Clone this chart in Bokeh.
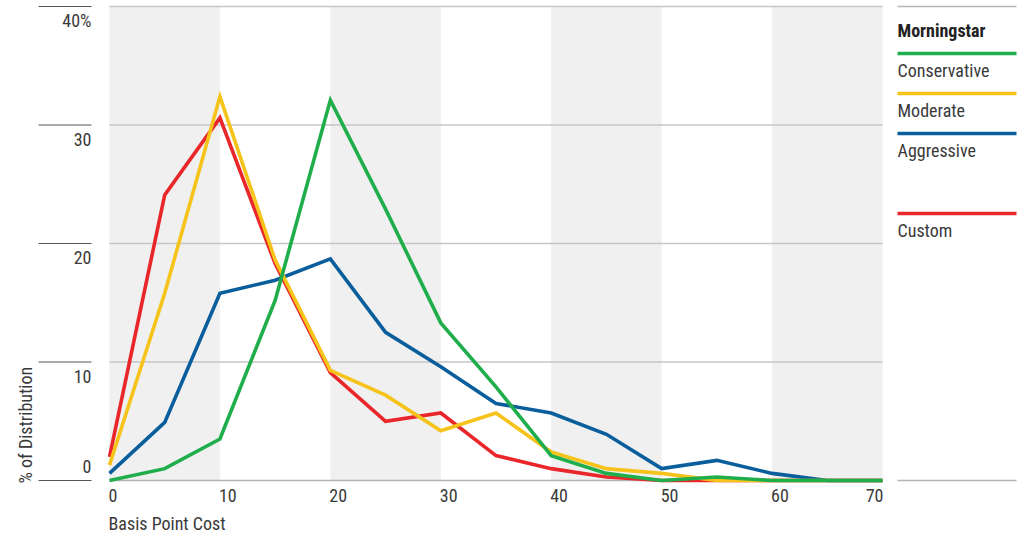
import numpy as np
from bokeh.plotting import figure
from bokeh.models import Range1d
from bokeh.embed import file_html
from bokeh.resources import INLINE
from bokeh.core.properties import value

# ---------------- data ----------------
basis_points = [0, 5, 10, 15, 20, 25, 30, 35, 40, 45, 50, 55, 60, 65, 70]
conservative = [0.0, 1.0, 3.5, 15.2, 32.1, 22.9, 13.3, 7.9, 2.1, 0.6, 0.0, 0.3, 0.0, 0.0, 0.0]
moderate = [1.3, 15.8, 32.4, 18.6, 9.3, 7.2, 4.2, 5.7, 2.4, 1.0, 0.6, 0.0, 0.0, 0.0, 0.0]
aggressive = [0.6, 4.9, 15.8, 16.9, 18.7, 12.5, 9.6, 6.5, 5.7, 3.9, 1.0, 1.7, 0.6, 0.0, 0.0]
custom = [2.0, 24.1, 30.6, 18.3, 9.1, 5.0, 5.7, 2.1, 1.0, 0.3, 0.0, 0.0, 0.0, 0.0, 0.0]

x_ticks = [0, 10, 20, 30, 40, 50, 60, 70]
x_tick_labels = ["0", "10", "20", "30", "40", "50", "60", "70"]
y_ticks = [0, 10, 20, 30, 40]
y_tick_labels = ["0", "10", "20", "30", "40%"]
band_starts = [0, 20, 40, 60]
band_ends = [10, 30, 50, 70]
series_names = ["Conservative", "Moderate", "Aggressive", "Custom"]
legend_title = "Morningstar"
x_title = "Basis Point Cost"
y_title = "% of Distribution"

# ---------------- styles / layout ----------------
FONT = "'Roboto Condensed', 'DejaVu Sans Condensed', 'Liberation Sans Narrow', Roboto"
FS = "18px"
TXT = "#3a3a3a"
COLORS = {"Conservative": "#1fae4b", "Moderate": "#f5c319",
          "Aggressive": "#0b5e9c", "Custom": "#e9262a"}
W, H = 1024, 537
# pixel geometry (picture coords): x=0 at 109, x=70 at 882; y=0 at 480, y=40 at 6
SX = (882 - 109) / 70.0
SY = (480 - 6) / 40.0


def px_x(sx):
    return (sx - 109) / SX


def px_y(sy):
    return (480 - sy) / SY


p = figure(width=W, height=H, output_backend="svg", toolbar_location=None,
           x_range=Range1d(px_x(0), px_x(W)),
           y_range=Range1d(px_y(H), px_y(0)),
           min_border=0)
p.axis.visible = False
p.grid.visible = False
p.outline_line_color = None
p.background_fill_color = "white"
p.border_fill_color = "white"

# shaded bands
p.quad(left=band_starts, right=band_ends, bottom=0, top=max(y_ticks),
       fill_color="#f0f0f0", line_color=None)

# gridlines inside plot
grid_vals = [t for t in y_ticks if t != 0]
p.segment(x0=[basis_points[0]] * len(grid_vals), x1=[basis_points[-1]] * len(grid_vals),
          y0=grid_vals, y1=grid_vals, line_color="#c6c6c6", line_width=1.5)
# baseline
p.segment(x0=[basis_points[0]], x1=[basis_points[-1]], y0=[0], y1=[0],
          line_color="#b5b5b5", line_width=1.5)

# left tick rules
p.segment(x0=[px_x(38)] * len(y_ticks), x1=[px_x(91)] * len(y_ticks),
          y0=y_ticks, y1=y_ticks, line_color="#555555", line_width=1.2)

# legend rules top and bottom
p.segment(x0=[px_x(897)] * 2, x1=[px_x(1016)] * 2, y0=[max(y_ticks), 0], y1=[max(y_ticks), 0],
          line_color="#b5b5b5", line_width=1.5)

# series lines
order = [("Custom", custom), ("Aggressive", aggressive), ("Moderate", moderate),
         ("Conservative", conservative)]
for name, vals in order:
    p.line(basis_points, vals, line_color=COLORS[name], line_width=3.6,
           line_join="miter")

# y tick labels
ys_other = [t - 14 / SY for t in y_ticks[1:]]
p.text(x=[px_x(91)] * (len(y_ticks) - 1), y=ys_other, text=y_tick_labels[1:],
       text_font=value(FONT), text_font_size=FS, text_color=TXT,
       text_align="right", text_baseline="middle")
p.text(x=[px_x(91)], y=[y_ticks[0] + 14 / SY], text=[y_tick_labels[0]],
       text_font=value(FONT), text_font_size=FS, text_color=TXT,
       text_align="right", text_baseline="middle")

# x tick labels (left aligned at tick; last one right aligned)
p.text(x=[t - 1 / SX for t in x_ticks[:-1]], y=[px_y(495)] * (len(x_ticks) - 1),
       text=x_tick_labels[:-1], text_font=value(FONT), text_font_size=FS,
       text_color=TXT, text_align="left", text_baseline="middle")
p.text(x=[x_ticks[-1] + 1 / SX], y=[px_y(495)], text=[x_tick_labels[-1]],
       text_font=value(FONT), text_font_size=FS, text_color=TXT,
       text_align="right", text_baseline="middle")

# axis titles
p.text(x=[px_x(108)], y=[px_y(523)], text=[x_title], text_font=value(FONT),
       text_font_size=FS, text_color=TXT, text_align="left", text_baseline="middle")
p.text(x=[px_x(25)], y=[px_y(483)], text=[y_title], text_font=value(FONT),
       text_font_size=FS, text_color=TXT, text_align="left", text_baseline="middle",
       angle=np.pi / 2)

# legend
p.text(x=[px_x(897)], y=[px_y(30)], text=[legend_title], text_font=value(FONT),
       text_font_size=FS, text_font_style="bold", text_color="#222222",
       text_align="left", text_baseline="middle")
legend_line_y = [53, 93, 133, 213]
for name, ly in zip(series_names, legend_line_y):
    p.segment(x0=[px_x(897)], x1=[px_x(1016)], y0=[px_y(ly)], y1=[px_y(ly)],
              line_color=COLORS[name], line_width=3.4)
    p.text(x=[px_x(897)], y=[px_y(ly + 17)], text=[name], text_font=value(FONT),
           text_font_size=FS, text_color=TXT, text_align="left", text_baseline="middle")

open("out.html", "w").write(file_html(p, INLINE))
